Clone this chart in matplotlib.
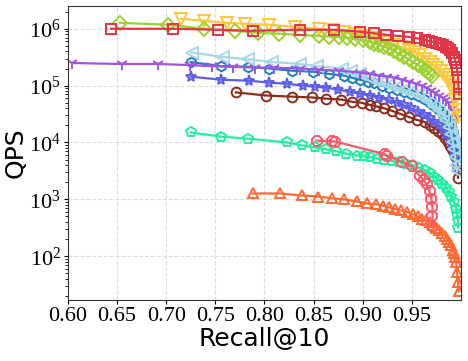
import matplotlib
matplotlib.use("Agg")
import matplotlib.pyplot as plt
import numpy as np

plt.rcParams['mathtext.fontset'] = 'custom'
plt.rcParams['mathtext.rm'] = 'Liberation Serif'
plt.rcParams['mathtext.it'] = 'Liberation Serif:italic'

# ---- data (recall@10, QPS) ----
red_sq_x = [0.644, 0.707, 0.753, 0.788, 0.836, 0.871, 0.897, 0.912, 0.924, 0.936, 0.947, 0.955, 0.963, 0.967, 0.971, 0.975, 0.979, 0.982, 0.985, 0.987, 0.989, 0.991, 0.993, 0.994, 0.995, 0.996, 0.997, 0.9975, 0.998]
red_sq_y = [1.0e6, 1.0e6, 9.6e5, 9.2e5, 9.6e5, 9.6e5, 8.9e5, 8.3e5, 7.8e5, 7.5e5, 7.2e5, 6.8e5, 6.4e5, 6.1e5, 5.9e5, 5.7e5, 5.5e5, 5.1e5, 4.8e5, 4.5e5, 4.3e5, 3.8e5, 3.2e5, 2.8e5, 2.5e5, 1.9e5, 1.4e5, 9.6e4, 7.0e4]

yel_x = [0.715, 0.739, 0.762, 0.780, 0.805, 0.831, 0.856, 0.870, 0.881, 0.892, 0.902, 0.910, 0.917, 0.925, 0.932, 0.940, 0.947, 0.953, 0.958, 0.963, 0.968, 0.972, 0.976, 0.980, 0.983, 0.986, 0.988, 0.990, 0.992, 0.994, 0.996, 0.997]
yel_y = [1.5e6, 1.38e6, 1.27e6, 1.22e6, 1.18e6, 1.08e6, 1.0e6, 9.4e5, 8.9e5, 8.1e5, 7.5e5, 6.9e5, 6.4e5, 5.8e5, 5.2e5, 4.7e5, 4.3e5, 3.9e5, 3.5e5, 3.0e5, 2.6e5, 2.3e5, 2.07e5, 1.8e5, 1.56e5, 1.35e5, 1.17e5, 1.0e5, 8.5e4, 5.7e4, 3.8e4, 2.7e4]

grn_x = [0.653, 0.702, 0.739, 0.770, 0.793, 0.815, 0.836, 0.856, 0.866, 0.876, 0.884, 0.892, 0.900, 0.907, 0.912, 0.917, 0.922, 0.927, 0.932, 0.937, 0.942, 0.947, 0.951, 0.956, 0.960, 0.963, 0.966, 0.968, 0.971]
grn_y = [1.27e6, 1.18e6, 1.0e6, 9.2e5, 8.5e5, 8.2e5, 7.8e5, 7.5e5, 7.3e5, 7.2e5, 6.9e5, 6.7e5, 6.3e5, 5.9e5, 5.5e5, 5.2e5, 4.8e5, 4.5e5, 4.0e5, 3.6e5, 3.2e5, 2.9e5, 2.6e5, 2.3e5, 2.1e5, 1.9e5, 1.75e5, 1.6e5, 1.45e5]

pur_x = [0.604, 0.655, 0.692, 0.724, 0.747, 0.768, 0.790, 0.810, 0.836, 0.856, 0.876, 0.897, 0.907, 0.917, 0.925, 0.932, 0.940, 0.947, 0.954, 0.960, 0.965, 0.970, 0.974, 0.978, 0.982, 0.985, 0.988, 0.990, 0.992, 0.994, 0.996]
pur_y = [2.5e5, 2.4e5, 2.4e5, 2.3e5, 2.2e5, 2.15e5, 2.07e5, 2.07e5, 2.0e5, 1.9e5, 1.83e5, 1.7e5, 1.6e5, 1.5e5, 1.44e5, 1.38e5, 1.27e5, 1.17e5, 1.08e5, 1.0e5, 9.1e4, 8.2e4, 7.4e4, 6.7e4, 6.0e4, 5.5e4, 5.0e4, 4.5e4, 4.0e4, 3.5e4, 2.7e4]

lbl_x = [0.726, 0.758, 0.783, 0.808, 0.836, 0.854, 0.879, 0.888, 0.897, 0.905, 0.912, 0.920, 0.927, 0.935, 0.942, 0.949, 0.956, 0.962, 0.968, 0.973, 0.978, 0.982, 0.985, 0.988, 0.990, 0.992, 0.993, 0.994, 0.995, 0.996]
lbl_y = [3.8e5, 3.2e5, 2.9e5, 2.6e5, 2.4e5, 2.2e5, 2.0e5, 1.8e5, 1.6e5, 1.43e5, 1.27e5, 1.15e5, 1.04e5, 9.4e4, 8.5e4, 7.7e4, 6.9e4, 6.0e4, 5.2e4, 4.4e4, 3.8e4, 3.1e4, 2.5e4, 1.9e4, 1.4e4, 1.0e4, 7.6e3, 5.6e3, 4.1e3, 3.1e3]

blu_x = [0.725, 0.756, 0.783, 0.805, 0.828, 0.849, 0.866, 0.881, 0.889, 0.897, 0.905, 0.912, 0.920, 0.927, 0.935, 0.942, 0.949, 0.956, 0.962, 0.968, 0.973, 0.978, 0.982, 0.985, 0.988, 0.990, 0.992, 0.994, 0.996]
blu_y = [2.6e5, 2.2e5, 2.15e5, 2.0e5, 1.83e5, 1.76e5, 1.6e5, 1.5e5, 1.38e5, 1.27e5, 1.18e5, 1.1e5, 1.0e5, 9.2e4, 8.5e4, 7.8e4, 7.2e4, 6.7e4, 5.8e4, 5.0e4, 4.4e4, 3.8e4, 3.2e4, 2.7e4, 2.3e4, 1.9e4, 1.5e4, 1.1e4, 6.2e3]

star_x = [0.725, 0.756, 0.784, 0.805, 0.823, 0.839, 0.851, 0.863, 0.875, 0.887, 0.897, 0.907, 0.917, 0.927, 0.935, 0.942, 0.949, 0.956, 0.962, 0.968, 0.973, 0.978, 0.982, 0.985, 0.988, 0.990, 0.992, 0.994, 0.996]
star_y = [1.44e5, 1.27e5, 1.22e5, 1.13e5, 1.08e5, 1.0e5, 9.6e4, 9.2e4, 8.5e4, 7.8e4, 7.2e4, 6.7e4, 6.1e4, 5.5e4, 5.0e4, 4.5e4, 4.0e4, 3.5e4, 3.1e4, 2.7e4, 2.3e4, 2.0e4, 1.7e4, 1.4e4, 1.15e4, 9.3e3, 7.2e3, 5.5e3, 3.6e3]

brn_x = [0.771, 0.802, 0.828, 0.848, 0.863, 0.878, 0.889, 0.899, 0.907, 0.914, 0.922, 0.930, 0.938, 0.947, 0.955, 0.963, 0.968, 0.973, 0.977, 0.981, 0.984, 0.987, 0.989, 0.991, 0.993, 0.994, 0.996, 0.997]
brn_y = [7.6e4, 6.7e4, 6.4e4, 6.2e4, 5.9e4, 5.7e4, 5.2e4, 5.0e4, 4.6e4, 4.3e4, 4.0e4, 3.6e4, 3.2e4, 2.8e4, 2.5e4, 2.3e4, 2.0e4, 1.8e4, 1.6e4, 1.4e4, 1.2e4, 1.0e4, 8.8e3, 7.6e3, 6.6e3, 5.7e3, 4.1e3, 2.4e3]

pent_x = [0.725, 0.756, 0.783, 0.823, 0.838, 0.851, 0.863, 0.873, 0.883, 0.894, 0.901, 0.907, 0.915, 0.922, 0.930, 0.937, 0.944, 0.951, 0.957, 0.963, 0.968, 0.973, 0.977, 0.981, 0.985, 0.988, 0.990, 0.993, 0.995, 0.996, 0.997, 0.997]
pent_y = [1.5e4, 1.27e4, 1.17e4, 1.0e4, 8.9e3, 8.2e3, 7.6e3, 7.0e3, 6.4e3, 5.9e3, 5.7e3, 5.5e3, 5.2e3, 5.0e3, 4.7e3, 4.5e3, 4.2e3, 4.0e3, 3.6e3, 3.3e3, 2.9e3, 2.5e3, 2.2e3, 1.9e3, 1.6e3, 1.33e3, 1.1e3, 8.9e2, 6.9e2, 5.5e2, 4.2e2, 3.2e2]

sal_x = [0.853, 0.869, 0.872, 0.923, 0.925, 0.940, 0.950, 0.958, 0.962, 0.965, 0.968, 0.970, 0.971, 0.971, 0.971]
sal_y = [1.08e4, 1.05e4, 1.04e4, 6.2e3, 5.9e3, 4.6e3, 3.8e3, 2.6e3, 2.2e3, 1.84e3, 1.4e3, 1.0e3, 7.2e2, 5.0e2, 3.4e2]

org_x = [0.788, 0.816, 0.838, 0.855, 0.869, 0.881, 0.894, 0.904, 0.914, 0.921, 0.927, 0.933, 0.939, 0.945, 0.951, 0.956, 0.960, 0.964, 0.968, 0.972, 0.975, 0.978, 0.981, 0.984, 0.986, 0.988, 0.990, 0.992, 0.993, 0.994, 0.995, 0.996, 0.997, 0.9975]
org_y = [1.27e3, 1.27e3, 1.17e3, 1.12e3, 1.04e3, 1.0e3, 9.2e2, 8.5e2, 8.2e2, 7.7e2, 7.2e2, 6.8e2, 6.4e2, 6.0e2, 5.5e2, 5.0e2, 4.6e2, 4.3e2, 4.0e2, 3.6e2, 3.2e2, 2.9e2, 2.6e2, 2.3e2, 2.0e2, 1.8e2, 1.55e2, 1.3e2, 1.13e2, 9.5e1, 7.9e1, 5.2e1, 3.5e1, 2.4e1]

xticks = [0.60, 0.65, 0.70, 0.75, 0.80, 0.85, 0.90, 0.95]

series = [
    (org_x, org_y, '#ff6a33', '^', 7),
    (pent_x, pent_y, '#22f0a0', 'p', 7),
    (sal_x, sal_y, '#ff5a6a', '8', 8),
    (brn_x, brn_y, '#8b2c1c', 'o', 7),
    (star_x, star_y, '#5e5ee8', '*', 8),
    (blu_x, blu_y, '#1f7fbf', 'h', 7),
    (lbl_x, lbl_y, '#a8d8e6', '<', 8),
    (pur_x, pur_y, '#a055e0', '1', 9),
    (yel_x, yel_y, '#ffc83a', 'v', 8),
    (grn_x, grn_y, '#9bd232', 'D', 7),
    (red_sq_x, red_sq_y, '#e33545', 's', 7),
]

fig = plt.figure(figsize=(4.68, 3.61), dpi=100)
ax = fig.add_axes([0.145, 0.169, 0.84, 0.814])

for xs, ys, c, m, ms in series:
    ax.plot(xs, ys, color=c, marker=m, markersize=ms, markerfacecolor='none',
            markeredgecolor=c, markeredgewidth=1.4, linewidth=1.6)

ax.set_yscale('log')
ax.set_xlim(0.60, 1.0)
ax.set_ylim(17, 2.5e6)
ax.set_xticks(xticks)
ax.set_xticklabels([f'{v:.2f}' for v in xticks])
ax.grid(True, which='major', linestyle='--', color='#dddddd', linewidth=0.8)
ax.set_axisbelow(True)

for lab in ax.get_xticklabels() + ax.get_yticklabels():
    lab.set_fontfamily('Liberation Serif')
    lab.set_fontsize(16)
ax.tick_params(axis='both', which='major', length=3, pad=2)
ax.tick_params(axis='y', which='minor', length=2)

ax.set_xlabel('Recall@10', fontsize=18, labelpad=1)
ax.set_ylabel('QPS', fontsize=18, labelpad=1)
for s in ax.spines.values():
    s.set_color('#333333')

fig.savefig('out.png', dpi=100)
